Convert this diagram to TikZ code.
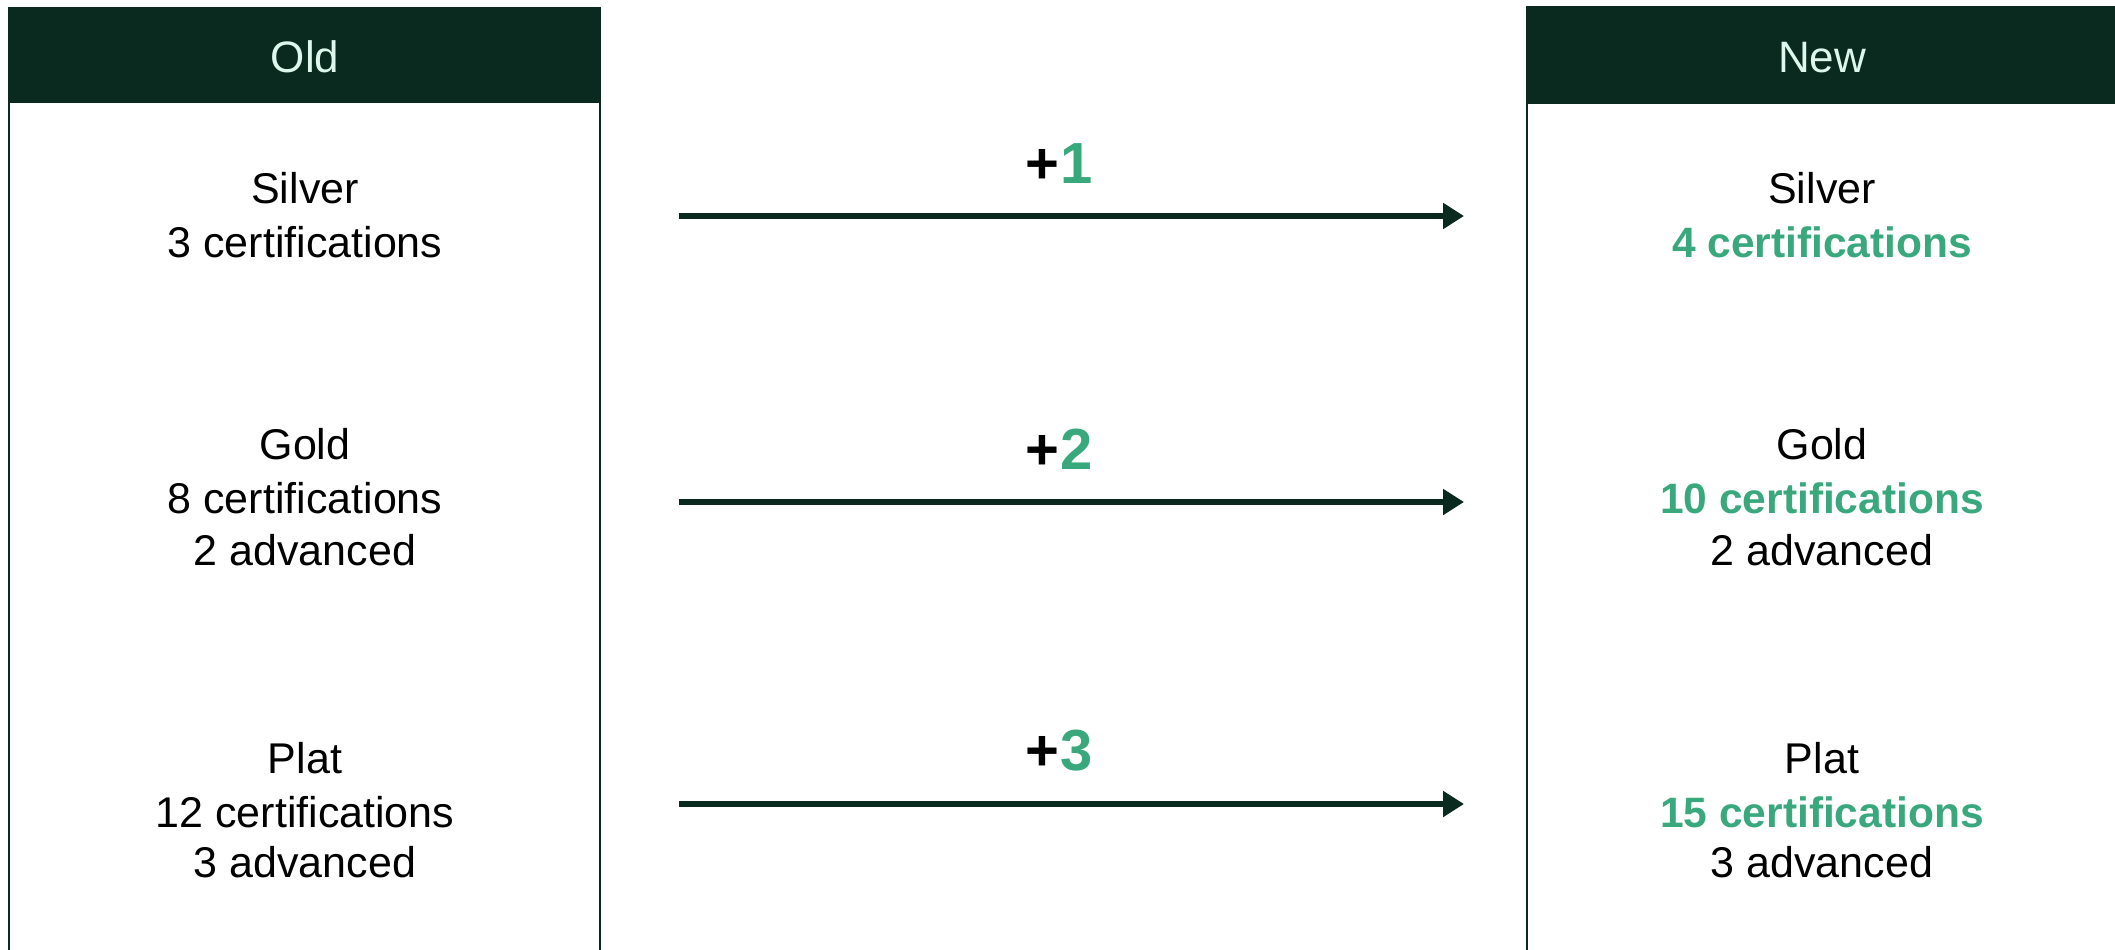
\documentclass[tikz,border=0pt]{standalone}
\usepackage{fontspec}
\setmainfont{Liberation Sans}
\usetikzlibrary{arrows.meta}
\definecolor{dkgreen}{HTML}{0A2A1F}
\definecolor{mint}{HTML}{DDF7EC}
\definecolor{accent}{HTML}{3AA87D}
\begin{document}
\begin{tikzpicture}[x=1pt,y=-1pt,
  body/.style={anchor=base,inner sep=0pt,font=\fontsize{43}{54}\selectfont,text=black},
  hot/.style={anchor=base,inner sep=0pt,font=\fontsize{42.5}{54}\selectfont\bfseries,text=accent},
  head/.style={anchor=base,inner sep=0pt,font=\fontsize{44}{54}\selectfont,text=mint},
  plus/.style={anchor=base,inner sep=0pt,font=\fontsize{58}{60}\selectfont\bfseries},
  flow/.style={draw=dkgreen,line width=6pt,-{Triangle[length=21pt,width=25pt]}},
  frame/.style={draw=dkgreen,line width=2pt},
  band/.style={fill=dkgreen,draw=dkgreen,line width=2pt}]
\clip (0,0) rectangle (2115,950);
\fill[white] (0,0) rectangle (2115,950);
% boxes
\draw[frame] (9,8) rectangle (600,970);
\draw[band] (9,8) rectangle (600,102);
\draw[frame] (1527,7) rectangle (2130,970);
\draw[band] (1527,7) rectangle (2130,103);
\node[head] (oldh) at (305,73) {Old};
\node[head] (newh) at (1822,73) {New};
% old column
\node[body] (os) at (305,203) {Silver};
\node[body] (osc) at (305,257) {3 certifications};
\node[body] (og) at (305,459) {Gold};
\node[body] (ogc) at (305,513) {8 certifications};
\node[body] (oga) at (305,565) {2 advanced};
\node[body] (op) at (305,773) {Plat};
\node[body] (opc) at (305,827) {12 certifications};
\node[body] (opa) at (305,877) {3 advanced};
% new column
\node[body] (ns) at (1822,203) {Silver};
\node[hot] (nsc) at (1822,257) {4 certifications};
\node[body] (ng) at (1822,459) {Gold};
\node[hot] (ngc) at (1822,513) {10 certifications};
\node[body] (nga) at (1822,565) {2 advanced};
\node[body] (np) at (1822,773) {Plat};
\node[hot] (npc) at (1822,827) {15 certifications};
\node[body] (npa) at (1822,877) {3 advanced};
% arrows
\coordinate (a1) at (679,216); \coordinate (b1) at (1464,216);
\coordinate (a2) at (679,502); \coordinate (b2) at (1464,502);
\coordinate (a3) at (679,804); \coordinate (b3) at (1464,804);
\draw[flow] (a1) -- (b1);
\draw[flow] (a2) -- (b2);
\draw[flow] (a3) -- (b3);
\node[plus] (p1) at (1059,183) {+\kern1pt\textcolor{accent}{1}};
\node[plus] (p2) at (1059,469) {+\kern1pt\textcolor{accent}{2}};
\node[plus] (p3) at (1059,770) {+\kern1pt\textcolor{accent}{3}};
\end{tikzpicture}
\end{document}
